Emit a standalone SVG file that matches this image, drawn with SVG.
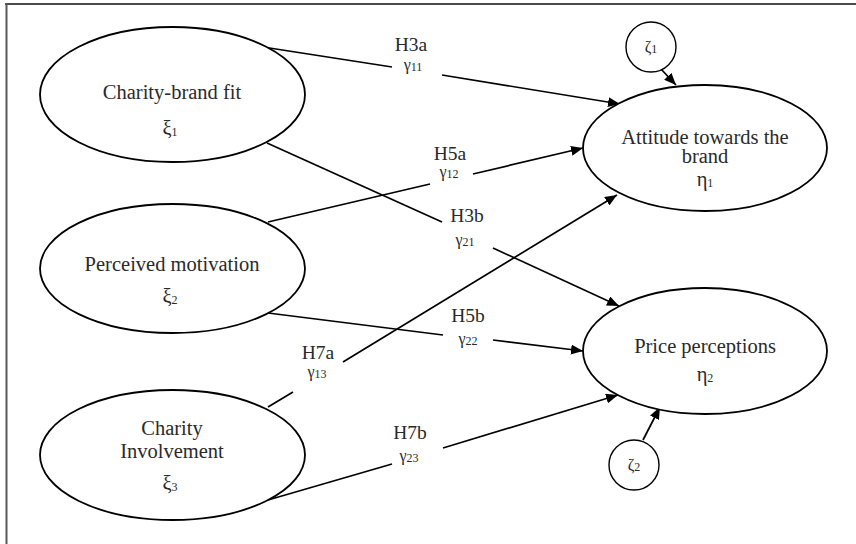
<svg xmlns="http://www.w3.org/2000/svg" width="856" height="544" viewBox="0 0 856 544">
  <style>
    .node { fill: #ffffff; stroke: #000000; stroke-width: 1.8; }
    .err { fill: #ffffff; stroke: #000000; stroke-width: 1.4; }
    .lbl { font-family: "Liberation Serif", "Times New Roman", serif; font-size: 20.5px; fill: #2a2a2a; text-anchor: middle; }
    .hyp { font-family: "Liberation Serif", "Times New Roman", serif; font-size: 19.5px; fill: #2a2a2a; text-anchor: middle; }
    .gam { font-family: "Liberation Serif", "Times New Roman", serif; font-size: 16px; fill: #2a2a2a; text-anchor: middle; }
    .sub { font-size: 12px; }
    .edge { fill: none; stroke: #000000; stroke-width: 1.7; }
  </style>
  <defs>
    <marker id="arrow" viewBox="0 0 12 10" refX="12" refY="5" markerWidth="12" markerHeight="10" markerUnits="userSpaceOnUse" orient="auto">
      <path d="M0,0 L12,5 L0,10 Z" fill="#000000"/>
    </marker>
  </defs>

  <rect width="856" height="544" fill="#ffffff"/>
  <!-- frame: top and left rules -->
  <g id="frame">
    <line x1="5" y1="4" x2="856" y2="4" stroke="#4a4a4a" stroke-width="2"/>
    <line x1="6.5" y1="3" x2="6.5" y2="544" stroke="#5a5a5a" stroke-width="2"/>
  </g>

  <!-- paths between constructs -->
  <g id="connectors">
    <!-- H3a -->
    <line class="edge" x1="263" y1="47" x2="392" y2="67"/>
    <line class="edge" x1="442" y1="75" x2="620" y2="104" marker-end="url(#arrow)"/>
    <!-- H5a -->
    <line class="edge" x1="268" y1="222" x2="430" y2="184"/>
    <line class="edge" x1="473" y1="174" x2="583" y2="148" marker-end="url(#arrow)"/>
    <!-- H3b -->
    <line class="edge" x1="267" y1="143" x2="442" y2="222"/>
    <line class="edge" x1="493" y1="248" x2="619" y2="306" marker-end="url(#arrow)"/>
    <!-- H5b -->
    <line class="edge" x1="268" y1="313" x2="443" y2="335"/>
    <line class="edge" x1="493" y1="340" x2="583" y2="351" marker-end="url(#arrow)"/>
    <!-- H7a -->
    <line class="edge" x1="268" y1="407" x2="293" y2="392"/>
    <line class="edge" x1="343" y1="362" x2="617" y2="195" marker-end="url(#arrow)"/>
    <!-- H7b -->
    <line class="edge" x1="268" y1="500" x2="392" y2="464"/>
    <line class="edge" x1="443" y1="448" x2="618" y2="395" marker-end="url(#arrow)"/>
    <!-- disturbances -->
    <line class="edge" x1="660" y1="68" x2="676" y2="85" marker-end="url(#arrow)"/>
    <line class="edge" x1="643" y1="440" x2="660" y2="407" marker-end="url(#arrow)"/>

    <!-- path labels -->
    <text class="hyp" x="411" y="51">H3a</text>
    <text class="gam" x="413" y="70">γ<tspan class="sub" dy="1">11</tspan></text>
    <text class="hyp" x="450" y="160">H5a</text>
    <text class="gam" x="449" y="177">γ<tspan class="sub" dy="1">12</tspan></text>
    <text class="hyp" x="467" y="222">H3b</text>
    <text class="gam" x="465" y="245">γ<tspan class="sub" dy="1">21</tspan></text>
    <text class="hyp" x="468" y="322">H5b</text>
    <text class="gam" x="468" y="344">γ<tspan class="sub" dy="1">22</tspan></text>
    <text class="hyp" x="318" y="359">H7a</text>
    <text class="gam" x="317" y="377">γ<tspan class="sub" dy="1">13</tspan></text>
    <text class="hyp" x="410" y="439">H7b</text>
    <text class="gam" x="409" y="461">γ<tspan class="sub" dy="1">23</tspan></text>
  </g>

  <g id="fit">
    <ellipse class="node" cx="172.5" cy="94.5" rx="132.5" ry="67.5"/>
    <text class="lbl" x="172" y="99">Charity-brand fit</text>
    <text class="lbl" x="170" y="135">ξ<tspan class="sub" dy="1">1</tspan></text>
  </g>

  <g id="motivation">
    <ellipse class="node" cx="172.5" cy="268.5" rx="132.5" ry="64.5"/>
    <text class="lbl" x="172" y="271">Perceived motivation</text>
    <text class="lbl" x="170" y="303">ξ<tspan class="sub" dy="1">2</tspan></text>
  </g>

  <g id="involvement">
    <ellipse class="node" cx="172.5" cy="455" rx="132.5" ry="65"/>
    <text class="lbl" x="172" y="435">Charity</text>
    <text class="lbl" x="172" y="458">Involvement</text>
    <text class="lbl" x="170" y="490">ξ<tspan class="sub" dy="1">3</tspan></text>
  </g>

  <g id="attitude">
    <ellipse class="node" cx="705" cy="148" rx="122" ry="63"/>
    <text class="lbl" x="705" y="144">Attitude towards the</text>
    <text class="lbl" x="705" y="163">brand</text>
    <text class="lbl" x="705" y="186">η<tspan class="sub" dy="1">1</tspan></text>
  </g>

  <g id="price">
    <ellipse class="node" cx="705" cy="351" rx="122" ry="63"/>
    <text class="lbl" x="705" y="353">Price perceptions</text>
    <text class="lbl" x="705" y="381">η<tspan class="sub" dy="1">2</tspan></text>
  </g>

  <g id="zeta1">
    <circle class="err" cx="651" cy="47" r="25"/>
    <text class="gam" x="651" y="52">ζ<tspan class="sub" dy="1">1</tspan></text>
  </g>

  <g id="zeta2">
    <circle class="err" cx="634" cy="465" r="25"/>
    <text class="gam" x="634" y="470">ζ<tspan class="sub" dy="1">2</tspan></text>
  </g>
</svg>
